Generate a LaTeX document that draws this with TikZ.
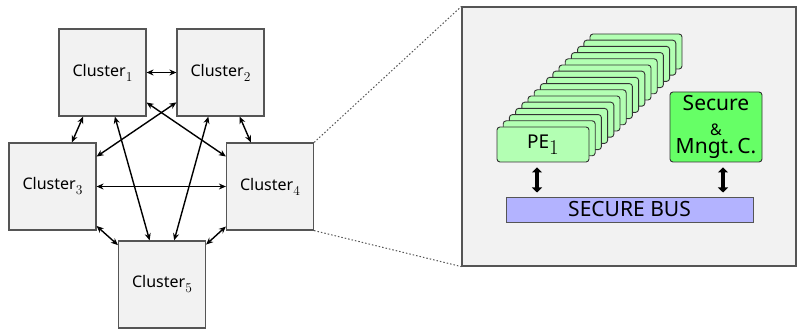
\documentclass[tikz,border=0pt]{standalone}
\usepackage{fontspec}
\setmainfont{Noto Sans}
\usetikzlibrary{arrows.meta}

\definecolor{boxgray}{HTML}{F2F2F2}
\definecolor{edgegray}{HTML}{555555}
\definecolor{pegreen}{HTML}{B3FFB3}
\definecolor{mngtgreen}{HTML}{66FF66}
\definecolor{buslilac}{HTML}{B3B3FF}

% index set low in Latin Modern
\newcommand\idx[2][13.5]{\raisebox{-0.32em}{\fontfamily{lmr}\fontsize{#1}{#1}\selectfont #2}}

\tikzset{
  cluster/.style={draw=edgegray,fill=boxgray,line width=1.2pt,minimum size=87pt,
    inner sep=0pt,font=\fontsize{16}{19}\selectfont},
  link/.style={{Stealth[length=7pt,width=6pt]}-{Stealth[length=7pt,width=6pt]},line width=1.4pt},
  zoomline/.style={draw=edgegray,line width=1pt,dash pattern=on 1.5pt off 2pt},
  pebox/.style={draw=black!80,fill=pegreen,line width=0.9pt,rounded corners=3pt},
  busarrow/.style={{Triangle[length=5pt,width=10pt]}-{Triangle[length=5pt,width=10pt]},line width=3.2pt},
}

\begin{document}
\begin{tikzpicture}[x=1pt,y=-1pt]
\useasboundingbox (0,0) rectangle (797,331);

% the five clusters
\node[cluster] (c1) at (102.5,72.5) {Cluster\idx{1}};
\node[cluster] (c2) at (220.5,72.5) {Cluster\idx{2}};
\node[cluster] (c3) at (52.5,186.5) {Cluster\idx{3}};
\node[cluster] (c4) at (270,186.5) {Cluster\idx{4}};
\node[cluster] (c5) at (162,284.5) {Cluster\idx{5}};

% every cluster talks to every other one
\foreach \a/\b in {c1/c2,c1/c3,c1/c4,c1/c5,c2/c3,c2/c4,c2/c5,c3/c4,c3/c5,c4/c5}
  \draw[link] (\a) -- (\b);

% inside of one cluster
\node[draw=edgegray,fill=boxgray,line width=1.2pt,minimum width=334pt,minimum height=259pt,
  inner sep=0pt] (inside) at (629,136.5) {};
\draw[zoomline] (c4.north east) -- (inside.north west);
\draw[zoomline] (c4.south east) -- (inside.south west);

% stack of processing elements, back to front
\foreach \k in {15,14,...,1}
  \path[pebox] (497+6.2*\k,127-6.2*\k) rectangle +(92,35);
\node[pebox,minimum width=92pt,minimum height=35pt,inner sep=0pt,
  font=\fontsize{19}{22}\selectfont] (pe1) at (543,144.5) {PE\idx[21]{1}};

\node[draw=black!80,fill=mngtgreen,line width=0.9pt,rounded corners=3pt,
  minimum width=92pt,minimum height=70pt,inner sep=0pt,align=center,
  font=\fontsize{21}{21}\selectfont] (mngt) at (716,127)
  {Secure\\[4pt]{\fontsize{16}{16}\selectfont\&}\\[-3pt]Mngt.\,C.};

\node[draw=edgegray,fill=buslilac,line width=1pt,minimum width=247pt,minimum height=25pt,
  inner sep=0pt,font=\fontsize{21}{21}\selectfont] (bus) at (629.5,209.5) {SECURE BUS};

\draw[busarrow,shorten <=5pt,shorten >=4pt] ([xshift=-6pt]pe1.south) -- ([xshift=-6pt]pe1.south |- bus.north);
\draw[busarrow,shorten <=5pt,shorten >=4pt] ([xshift=7pt]mngt.south) -- ([xshift=7pt]mngt.south |- bus.north);
\end{tikzpicture}
\end{document}
